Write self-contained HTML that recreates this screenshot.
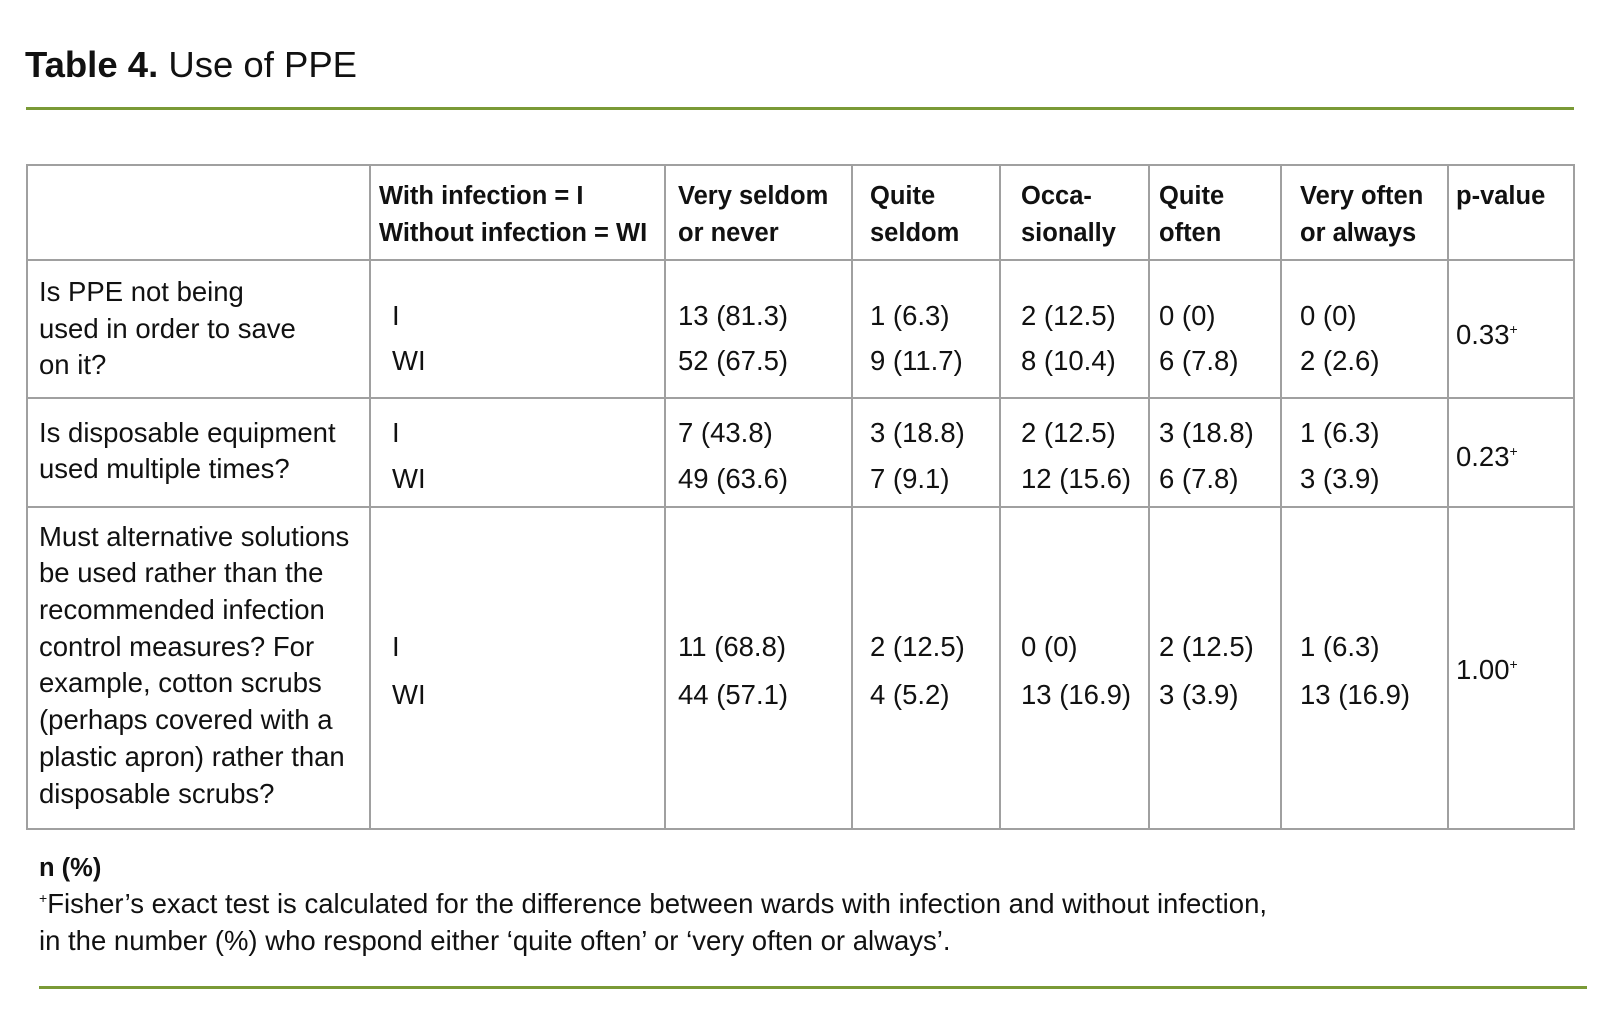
<!DOCTYPE html>
<html><head><meta charset="utf-8"><style>
body{margin:0;width:1600px;height:1034px;background:#fff;position:relative;overflow:hidden;font-family:"Liberation Sans",sans-serif;color:#111}
.t{position:absolute;white-space:nowrap;font-size:27.5px;line-height:30px;height:30px;margin-top:2px}
.b{font-weight:bold;font-size:25.5px}
.h{position:absolute;background:#a0a0a0;height:1.5px}
.v{position:absolute;background:#a0a0a0;width:1.5px;top:164px;height:665px}
.g{position:absolute;background:#7a9a36;height:3px}
sup{font-size:14px;vertical-align:10px;line-height:0}
</style></head><body>
<div class="t" style="left:25px;top:43px;font-size:36.5px;line-height:40px;height:40px"><b>Table 4.</b> Use of PPE</div>
<div class="g" style="left:26px;top:107px;width:1548px"></div>
<div class="h" style="left:26px;top:164px;width:1548px"></div>
<div class="h" style="left:26px;top:259px;width:1548px"></div>
<div class="h" style="left:26px;top:397px;width:1548px"></div>
<div class="h" style="left:26px;top:506px;width:1548px"></div>
<div class="h" style="left:26px;top:828px;width:1549px"></div>
<div class="v" style="left:26px"></div><div class="v" style="left:369px"></div><div class="v" style="left:664px"></div><div class="v" style="left:851px"></div><div class="v" style="left:999px"></div><div class="v" style="left:1148px"></div><div class="v" style="left:1280px"></div><div class="v" style="left:1447px"></div><div class="v" style="left:1573px"></div>

<div class="t b" style="left:379px;top:179px">With infection = I</div>
<div class="t b" style="left:379px;top:216px">Without infection = WI</div>
<div class="t b" style="left:678px;top:179px">Very seldom</div><div class="t b" style="left:678px;top:216px">or never</div>
<div class="t b" style="left:870px;top:179px">Quite</div><div class="t b" style="left:870px;top:216px">seldom</div>
<div class="t b" style="left:1021px;top:179px">Occa-</div><div class="t b" style="left:1021px;top:216px">sionally</div>
<div class="t b" style="left:1159px;top:179px">Quite</div><div class="t b" style="left:1159px;top:216px">often</div>
<div class="t b" style="left:1300px;top:179px">Very often</div><div class="t b" style="left:1300px;top:216px">or always</div>
<div class="t b" style="left:1456px;top:179px">p-value</div>

<div class="t" style="left:39px;top:275px">Is PPE not being</div>
<div class="t" style="left:39px;top:312px">used in order to save</div>
<div class="t" style="left:39px;top:348px">on it?</div>
<div class="t" style="left:392px;top:299px">I</div><div class="t" style="left:392px;top:344px">WI</div>
<div class="t" style="left:678px;top:299px">13 (81.3)</div><div class="t" style="left:678px;top:344px">52 (67.5)</div>
<div class="t" style="left:870px;top:299px">1 (6.3)</div><div class="t" style="left:870px;top:344px">9 (11.7)</div>
<div class="t" style="left:1021px;top:299px">2 (12.5)</div><div class="t" style="left:1021px;top:344px">8 (10.4)</div>
<div class="t" style="left:1159px;top:299px">0 (0)</div><div class="t" style="left:1159px;top:344px">6 (7.8)</div>
<div class="t" style="left:1300px;top:299px">0 (0)</div><div class="t" style="left:1300px;top:344px">2 (2.6)</div>
<div class="t" style="left:1456px;top:318px">0.33<sup>+</sup></div>

<div class="t" style="left:39px;top:416px">Is disposable equipment</div>
<div class="t" style="left:39px;top:452px">used multiple times?</div>
<div class="t" style="left:392px;top:416px">I</div><div class="t" style="left:392px;top:462px">WI</div>
<div class="t" style="left:678px;top:416px">7 (43.8)</div><div class="t" style="left:678px;top:462px">49 (63.6)</div>
<div class="t" style="left:870px;top:416px">3 (18.8)</div><div class="t" style="left:870px;top:462px">7 (9.1)</div>
<div class="t" style="left:1021px;top:416px">2 (12.5)</div><div class="t" style="left:1021px;top:462px">12 (15.6)</div>
<div class="t" style="left:1159px;top:416px">3 (18.8)</div><div class="t" style="left:1159px;top:462px">6 (7.8)</div>
<div class="t" style="left:1300px;top:416px">1 (6.3)</div><div class="t" style="left:1300px;top:462px">3 (3.9)</div>
<div class="t" style="left:1456px;top:440px">0.23<sup>+</sup></div>

<div class="t" style="left:39px;top:520px">Must alternative solutions</div>
<div class="t" style="left:39px;top:556px">be used rather than the</div>
<div class="t" style="left:39px;top:593px">recommended infection</div>
<div class="t" style="left:39px;top:630px">control measures? For</div>
<div class="t" style="left:39px;top:666px">example, cotton scrubs</div>
<div class="t" style="left:39px;top:703px">(perhaps covered with a</div>
<div class="t" style="left:39px;top:740px">plastic apron) rather than</div>
<div class="t" style="left:39px;top:777px">disposable scrubs?</div>
<div class="t" style="left:392px;top:630px">I</div><div class="t" style="left:392px;top:678px">WI</div>
<div class="t" style="left:678px;top:630px">11 (68.8)</div><div class="t" style="left:678px;top:678px">44 (57.1)</div>
<div class="t" style="left:870px;top:630px">2 (12.5)</div><div class="t" style="left:870px;top:678px">4 (5.2)</div>
<div class="t" style="left:1021px;top:630px">0 (0)</div><div class="t" style="left:1021px;top:678px">13 (16.9)</div>
<div class="t" style="left:1159px;top:630px">2 (12.5)</div><div class="t" style="left:1159px;top:678px">3 (3.9)</div>
<div class="t" style="left:1300px;top:630px">1 (6.3)</div><div class="t" style="left:1300px;top:678px">13 (16.9)</div>
<div class="t" style="left:1456px;top:653px">1.00<sup>+</sup></div>

<div class="t b" style="left:39px;top:851px">n (%)</div>
<div class="t" style="left:39px;top:887px"><sup>+</sup>Fisher’s exact test is calculated for the difference between wards with infection and without infection,</div>
<div class="t" style="left:39px;top:924px">in the number (%) who respond either ‘quite often’ or ‘very often or always’.</div>
<div class="g" style="left:39px;top:986px;width:1548px"></div>
</body></html>
